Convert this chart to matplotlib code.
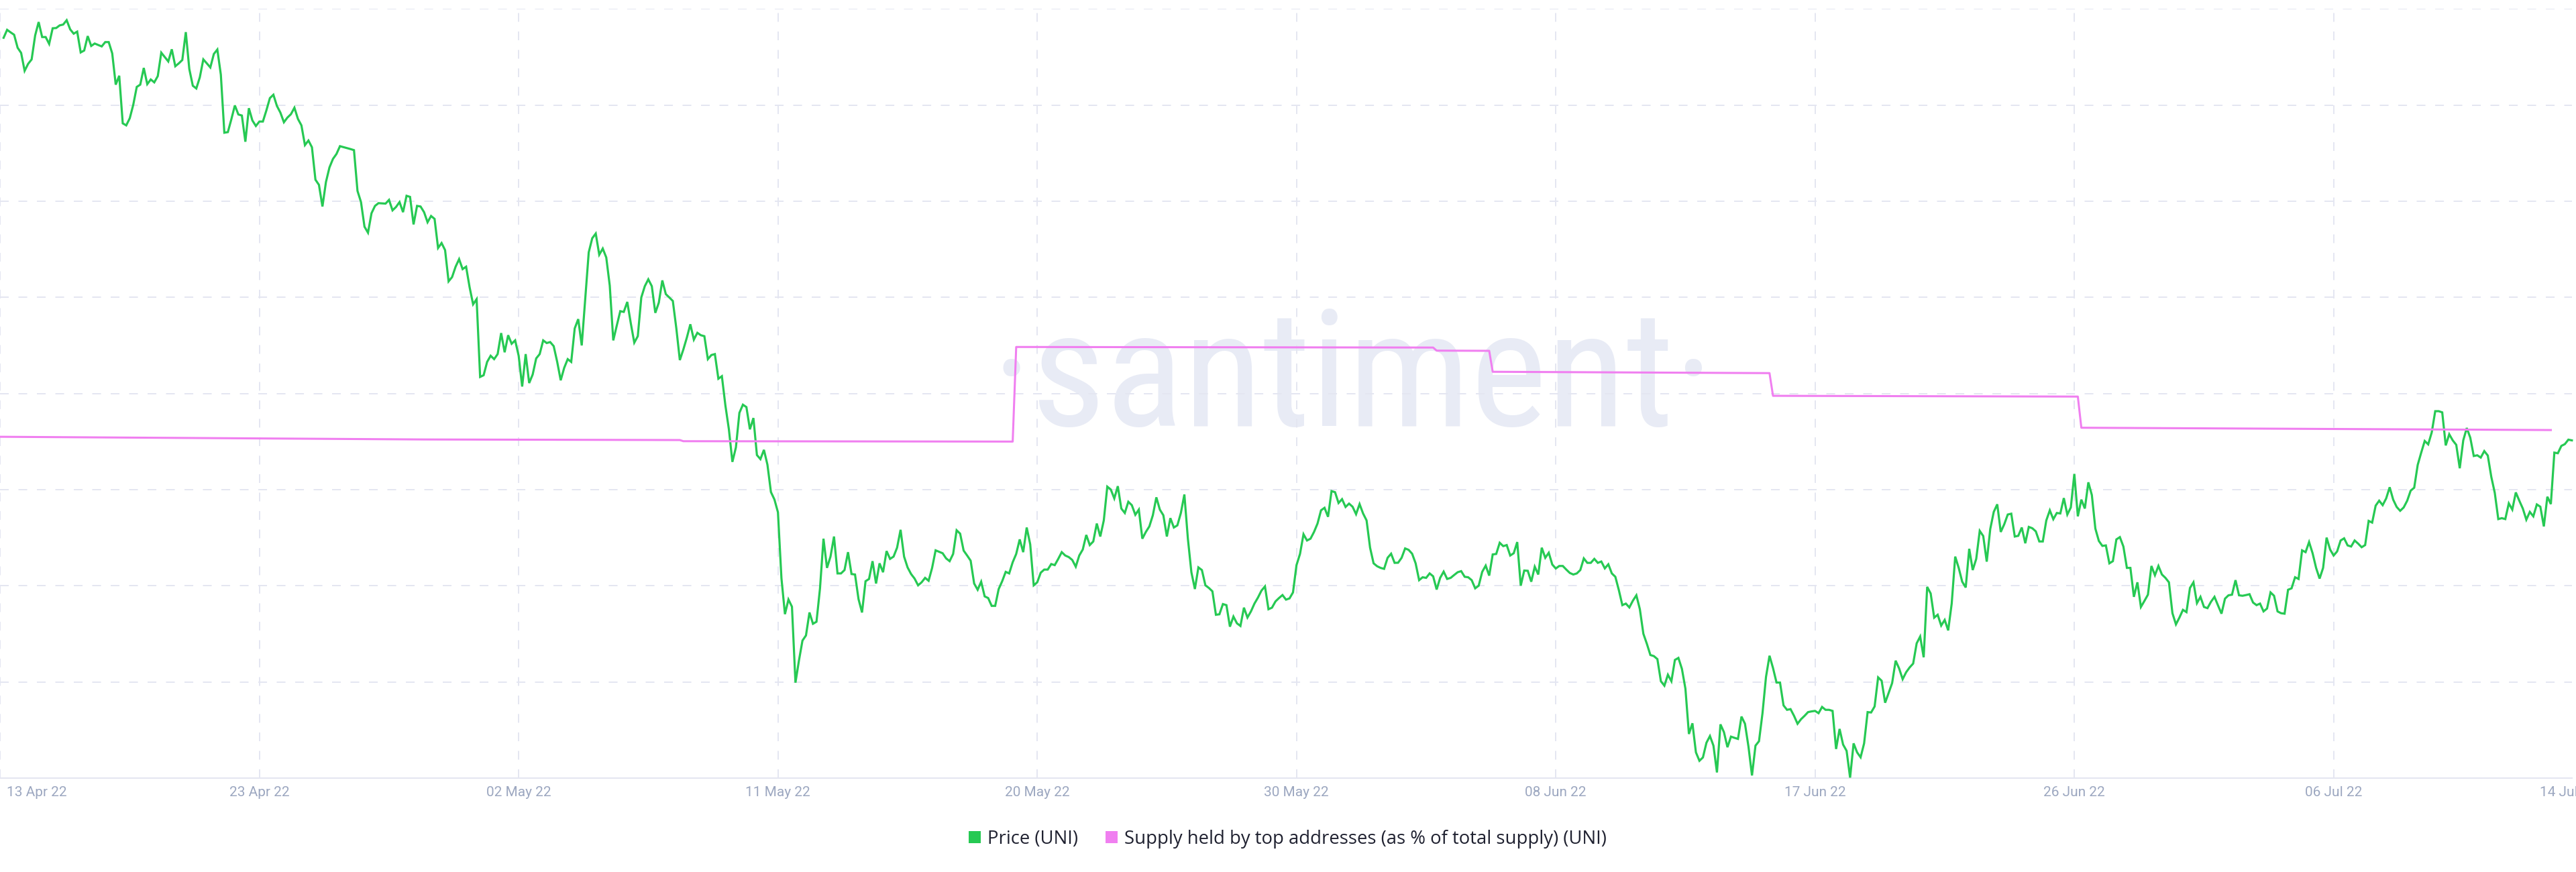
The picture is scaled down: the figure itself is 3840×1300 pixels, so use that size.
import os
import numpy as np
import matplotlib
matplotlib.use("Agg")
import matplotlib.pyplot as plt
from matplotlib.lines import Line2D
from matplotlib import font_manager as fm
from matplotlib.textpath import TextPath
import matplotlib.transforms as mtransforms

# ---------------- data ----------------
# UNI price, 3-hour samples (USD)
price = [
    9.760, 9.826, 9.805, 9.785, 9.677, 9.634, 9.485, 9.543, 9.580, 9.779,
    9.891, 9.766, 9.766, 9.709, 9.839, 9.841, 9.863, 9.870, 9.906, 9.830,
    9.794, 9.811, 9.638, 9.654, 9.774, 9.692, 9.712, 9.700, 9.688, 9.724,
    9.724, 9.630, 9.370, 9.444, 9.048, 9.031, 9.090, 9.202, 9.351, 9.370,
    9.509, 9.374, 9.413, 9.389, 9.441, 9.636, 9.599, 9.563, 9.664, 9.523,
    9.547, 9.575, 9.807, 9.500, 9.361, 9.338, 9.431, 9.580, 9.547, 9.513,
    9.625, 9.662, 9.453, 8.970, 8.975, 9.082, 9.197, 9.122, 9.113, 8.895,
    9.174, 9.072, 9.026, 9.063, 9.063, 9.156, 9.258, 9.286, 9.193, 9.137,
    9.057, 9.096, 9.124, 9.178, 9.085, 9.031, 8.867, 8.905, 8.849, 8.579,
    8.536, 8.356, 8.560, 8.681, 8.752, 8.793, 8.858, 8.850, 8.842, 8.834,
    8.825, 8.486, 8.393, 8.188, 8.138, 8.300, 8.361, 8.384, 8.382, 8.380,
    8.411, 8.324, 8.352, 8.393, 8.309, 8.445, 8.436, 8.207, 8.361, 8.356,
    8.309, 8.225, 8.277, 8.253, 8.011, 8.052, 7.993, 7.733, 7.769, 7.855,
    7.918, 7.835, 7.855, 7.684, 7.542, 7.585, 6.938, 6.952, 7.063, 7.114,
    7.086, 7.128, 7.303, 7.143, 7.285, 7.214, 7.242, 7.114, 6.858, 7.128,
    6.887, 6.958, 7.092, 7.128, 7.242, 7.220, 7.228, 7.194, 7.063, 6.910,
    7.014, 7.086, 7.063, 7.342, 7.419, 7.200, 7.585, 7.975, 8.092, 8.131,
    7.955, 8.006, 7.932, 7.698, 7.242, 7.365, 7.485, 7.479, 7.562, 7.385,
    7.223, 7.277, 7.599, 7.693, 7.750, 7.693, 7.471, 7.556, 7.741, 7.627,
    7.599, 7.570, 7.342, 7.078, 7.166, 7.265, 7.376, 7.248, 7.305, 7.285,
    7.277, 7.086, 7.120, 7.128, 6.923, 6.944, 6.701, 6.502, 6.231, 6.351,
    6.639, 6.707, 6.687, 6.502, 6.596, 6.288, 6.254, 6.331, 6.208, 5.980,
    5.918, 5.812, 5.263, 4.964, 5.086, 5.026, 4.394, 4.579, 4.744, 4.787,
    4.978, 4.884, 4.901, 5.177, 5.592, 5.349, 5.443, 5.610, 5.303, 5.303,
    5.331, 5.480, 5.298, 5.294, 5.089, 4.978, 5.238, 5.257, 5.405, 5.219,
    5.387, 5.313, 5.489, 5.424, 5.443, 5.517, 5.666, 5.443, 5.353, 5.298,
    5.260, 5.204, 5.229, 5.266, 5.242, 5.349, 5.495, 5.483, 5.471, 5.428,
    5.405, 5.465, 5.662, 5.634, 5.493, 5.452, 5.409, 5.219, 5.167, 5.234,
    5.112, 5.098, 5.033, 5.033, 5.173, 5.238, 5.316, 5.303, 5.396, 5.465,
    5.586, 5.480, 5.685, 5.545, 5.204, 5.229, 5.309, 5.335, 5.335, 5.381,
    5.372, 5.424, 5.480, 5.452, 5.439, 5.415, 5.359, 5.452, 5.502, 5.623,
    5.539, 5.569, 5.718, 5.610, 5.744, 6.025, 6.001, 5.927, 6.029, 5.843,
    5.806, 5.899, 5.871, 5.791, 5.834, 5.592, 5.648, 5.694, 5.787, 5.936,
    5.834, 5.787, 5.610, 5.763, 5.685, 5.703, 5.806, 5.960, 5.592, 5.313,
    5.173, 5.353, 5.331, 5.204, 5.182, 5.154, 4.959, 4.963, 5.048, 5.039,
    4.860, 4.944, 4.888, 4.866, 5.018, 4.936, 4.987, 5.052, 5.102, 5.160,
    5.195, 5.005, 5.018, 5.070, 5.098, 5.123, 5.085, 5.095, 5.145, 5.372,
    5.465, 5.629, 5.577, 5.592, 5.648, 5.718, 5.828, 5.849, 5.774, 5.988,
    5.979, 5.889, 5.921, 5.856, 5.884, 5.858, 5.796, 5.880, 5.802, 5.744,
    5.517, 5.387, 5.363, 5.349, 5.341, 5.433, 5.467, 5.391, 5.392, 5.433,
    5.511, 5.499, 5.467, 5.387, 5.247, 5.271, 5.266, 5.303, 5.279, 5.169,
    5.266, 5.318, 5.257, 5.266, 5.290, 5.313, 5.322, 5.275, 5.271, 5.247,
    5.179, 5.201, 5.316, 5.368, 5.285, 5.461, 5.465, 5.558, 5.530, 5.539,
    5.452, 5.471, 5.564, 5.201, 5.327, 5.325, 5.234, 5.359, 5.294, 5.517,
    5.433, 5.475, 5.377, 5.344, 5.365, 5.365, 5.335, 5.307, 5.294, 5.303,
    5.331, 5.428, 5.391, 5.391, 5.424, 5.391, 5.402, 5.345, 5.379, 5.303,
    5.275, 5.164, 5.039, 5.052, 5.020, 5.076, 5.121, 5.005, 4.801, 4.717,
    4.624, 4.615, 4.590, 4.406, 4.369, 4.460, 4.406, 4.583, 4.600, 4.509,
    4.344, 3.967, 4.056, 3.814, 3.744, 3.772, 3.894, 3.950, 3.870, 3.647,
    4.047, 3.982, 3.857, 3.945, 3.935, 3.926, 4.112, 4.052, 3.861, 3.622,
    3.870, 3.907, 4.140, 4.442, 4.618, 4.516, 4.395, 4.395, 4.205, 4.168,
    4.174, 4.118, 4.052, 4.090, 4.118, 4.149, 4.155, 4.159, 4.140, 4.192,
    4.168, 4.168, 4.159, 3.842, 4.009, 3.879, 3.827, 3.604, 3.889, 3.814,
    3.773, 3.889, 4.149, 4.146, 4.196, 4.438, 4.410, 4.227, 4.308, 4.391,
    4.577, 4.512, 4.423, 4.481, 4.521, 4.553, 4.721, 4.778, 4.605, 5.191,
    5.136, 4.935, 4.959, 4.869, 4.916, 4.829, 5.052, 5.443, 5.349, 5.234,
    5.186, 5.508, 5.331, 5.424, 5.657, 5.614, 5.401, 5.672, 5.815, 5.878,
    5.648, 5.712, 5.793, 5.800, 5.610, 5.616, 5.685, 5.554, 5.690, 5.679,
    5.653, 5.569, 5.569, 5.744, 5.828, 5.754, 5.806, 5.802, 5.930, 5.793,
    5.852, 6.131, 5.778, 5.917, 5.843, 6.061, 5.955, 5.676, 5.573, 5.532,
    5.536, 5.387, 5.405, 5.586, 5.605, 5.527, 5.349, 5.349, 5.108, 5.229,
    5.024, 5.074, 5.126, 5.365, 5.288, 5.365, 5.294, 5.266, 5.229, 4.972,
    4.879, 4.936, 5.000, 4.981, 5.182, 5.229, 5.056, 5.108, 5.024, 5.014,
    5.067, 5.108, 5.037, 4.968, 5.093, 5.121, 5.126, 5.247, 5.121, 5.117,
    5.123, 5.130, 5.061, 5.039, 5.052, 4.987, 5.011, 5.145, 5.117, 4.987,
    4.972, 4.968, 5.167, 5.179, 5.271, 5.257, 5.495, 5.480, 5.564, 5.471,
    5.349, 5.260, 5.349, 5.601, 5.502, 5.452, 5.486, 5.577, 5.595, 5.536,
    5.527, 5.577, 5.551, 5.521, 5.539, 5.740, 5.726, 5.867, 5.908, 5.871,
    5.927, 6.020, 5.917, 5.856, 5.824, 5.852, 5.908, 5.992, 6.016, 6.206,
    6.308, 6.405, 6.377, 6.476, 6.653, 6.653, 6.643, 6.368, 6.461, 6.410,
    6.373, 6.178, 6.410, 6.513, 6.433, 6.280, 6.286, 6.267, 6.321, 6.284,
    6.107, 5.973, 5.755, 5.763, 5.755, 5.886, 5.834, 5.977, 5.908, 5.843,
    5.750, 5.815, 5.778, 5.877, 5.858, 5.694, 5.941, 5.880, 6.308, 6.303,
    6.364, 6.379, 6.416, 6.410,
]

# Supply held by top addresses (% of total supply); sample step (3h units) and value
supply_step = [-1, 120, 193, 194, 288, 289, 408, 409, 424, 425, 504, 505, 592, 593, 727]
supply_pct = [79.775, 79.761, 79.758, 79.752, 79.750, 80.242, 80.239, 80.223,
              80.222, 80.113, 80.106, 79.988, 79.984, 79.822, 79.810]

# x-axis tick labels (in 3h steps)
tick_steps = [-1, 73, 147, 221, 295, 369, 443, 517, 591, 665]
tick_labels = ["13 Apr 22", "23 Apr 22", "02 May 22", "11 May 22", "20 May 22",
               "30 May 22", "08 Jun 22", "17 Jun 22", "26 Jun 22", "06 Jul 22"]
end_label = "14 Jul 22"
end_label_step = 723.8

series_names = ["Price (UNI)", "Supply held by top addresses (as % of total supply) (UNI)"]
watermark_word = "santiment"
watermark = "\u00b7" + watermark_word + "\u00b7"

# ---------------- style ----------------
GREEN = "#26c953"
PINK = "#f07ff0"
GRID = "#e4e6f1"
TICK_C = "#9ca7c0"
TEXT_C = "#1f2130"
WATER = "#e8ebf5"

plt.rcParams["lines.scale_dashes"] = False


def pick(names):
    for n in names:
        try:
            fm.findfont(fm.FontProperties(family=n), fallback_to_default=False)
            return n
        except Exception:
            pass
    return "DejaVu Sans"


def find_narrow_font():
    prefs = ["liberation sans narrow", "roboto condensed", "open sans condensed",
             "noto sans condensed", "dejavu sans condensed", "dejavusanscondensed",
             "notosans-condensed", "condensed", "narrow"]
    cands = []
    for f in fm.fontManager.ttflist:
        base = os.path.basename(f.fname).lower()
        nm = (f.name + " " + base).lower()
        is_narrow = ("narrow" in nm or "condensed" in nm or
                     str(f.stretch) in ("condensed", "extra-condensed"))
        if not is_narrow or "semi" in nm:
            continue
        if f.style != "normal" or "italic" in base or "oblique" in base:
            continue
        try:
            w = int(f.weight)
        except Exception:
            w = 400 if str(f.weight) in ("normal", "regular", "book") else 700
        if w > 400 or "bold" in base or "black" in base:
            continue
        cands.append((nm, f.fname, w))
    for p in prefs:
        for nm, fn, w in sorted(cands, key=lambda c: -c[2]):
            if p in nm:
                return fm.FontProperties(fname=fn)
    for fam in ["DejaVu Sans", "Noto Sans", "Open Sans"]:
        try:
            path = fm.findfont(fm.FontProperties(family=fam, stretch="condensed"),
                               fallback_to_default=False)
            if "condensed" in path.lower():
                return fm.FontProperties(fname=path)
        except Exception:
            pass
    return fm.FontProperties(family=pick(["Liberation Sans", "Roboto", "DejaVu Sans"]))


tick_font = pick(["Roboto", "Liberation Sans", "DejaVu Sans"])
leg_font = pick(["Open Sans", "Roboto", "DejaVu Sans"])
wm_prop = find_narrow_font()

W, H = 3840, 1300
fig = plt.figure(figsize=(W / 100, H / 100), dpi=100)
fig.patch.set_facecolor("white")

ax_left, ax_right = 0, 3834
ax_top, ax_bottom = 13.3, 1160
ax = fig.add_axes([ax_left / W, (H - ax_bottom) / H,
                   (ax_right - ax_left) / W, (ax_bottom - ax_top) / H])
ax.set_xlim(-1.03, 733.03)
ax.set_ylim(3.6, 10.0)

for s in ["top", "left", "right"]:
    ax.spines[s].set_visible(False)
ax.spines["bottom"].set_color(GRID)
ax.spines["bottom"].set_linewidth(1.5)
ax.set_yticks([])

# gridlines
for yv in np.arange(4.4, 10.001, 0.8):
    ax.axhline(yv, color=GRID, lw=1.44, dashes=(9.4, 10.4), zorder=0.5)
for t in tick_steps:
    ax.axvline(t, color=GRID, lw=1.44, dashes=(9.4, 10.4), zorder=0.5)

# watermark: size chosen from the glyph metrics of the available face so that
# both the x-height (~133 px) and the word width (~917 px) are close to the logo
xh_units = TextPath((0, 0), "n", size=100, prop=wm_prop).get_extents().height
w_units = TextPath((0, 0), watermark_word, size=100, prop=wm_prop).get_extents().width
em_from_h = 100 * 133.0 / xh_units
em_from_w = 100 * 917.0 / w_units
em_px = (em_from_h ** 0.55) * (em_from_w ** 0.45)
ax.text(2017 / W, (H - 635) / H, watermark, transform=fig.transFigure,
        ha="center", va="baseline", color=WATER, fontproperties=wm_prop,
        fontsize=em_px * 72 / 100, zorder=0.1)

# price line
x = np.arange(len(price))
ax.plot(x, price, color=GREEN, lw=2.3, solid_joinstyle="miter", clip_on=False, zorder=3)

# supply line on twin axis
ax2 = ax.twinx()
ax2.set_ylim(78.0, 82.0)
ax2.set_yticks([])
for s in ax2.spines.values():
    s.set_visible(False)
ax2.plot(supply_step, supply_pct, color=PINK, lw=2.2, zorder=3)

# x tick labels
ax.set_xticks(tick_steps[1:], tick_labels[1:])
ax.tick_params(axis="x", length=0, pad=19.2, labelsize=15, labelcolor=TICK_C)
for lbl in ax.get_xticklabels():
    lbl.set_family([tick_font, "DejaVu Sans"])
    lbl.set_verticalalignment("baseline")

base = ax.get_xaxis_transform()
tr_first = mtransforms.offset_copy(base, fig=fig, x=10 / 100, y=-26.7 / 100, units="inches")
ax.text(tick_steps[0], 0, tick_labels[0], transform=tr_first, ha="left", va="baseline",
        fontsize=15, color=TICK_C, family=[tick_font, "DejaVu Sans"])
tr_last = mtransforms.offset_copy(base, fig=fig, x=0, y=-26.7 / 100, units="inches")
ax.text(end_label_step, 0, end_label, transform=tr_last, ha="left", va="baseline",
        fontsize=15, color=TICK_C, family=[tick_font, "DejaVu Sans"])

# legend
fs_leg = 19.8
fs_px = fs_leg * 100 / 72
handles = [Line2D([], [], ls="none", marker="s", markersize=13, markeredgewidth=0,
                  color=GREEN),
           Line2D([], [], ls="none", marker="s", markersize=13, markeredgewidth=0,
                  color=PINK)]
leg = fig.legend(handles, series_names, loc="center", ncol=2, frameon=False,
                 bbox_to_anchor=(1919.7 / W, (H - 1251) / H),
                 prop={"family": [leg_font, "DejaVu Sans"], "size": fs_leg},
                 handlelength=18 / fs_px, handletextpad=10 / fs_px,
                 columnspacing=41 / fs_px, borderpad=0, borderaxespad=0)
for t in leg.get_texts():
    t.set_color(TEXT_C)

fig.savefig("out.png", dpi=100, facecolor="white")
